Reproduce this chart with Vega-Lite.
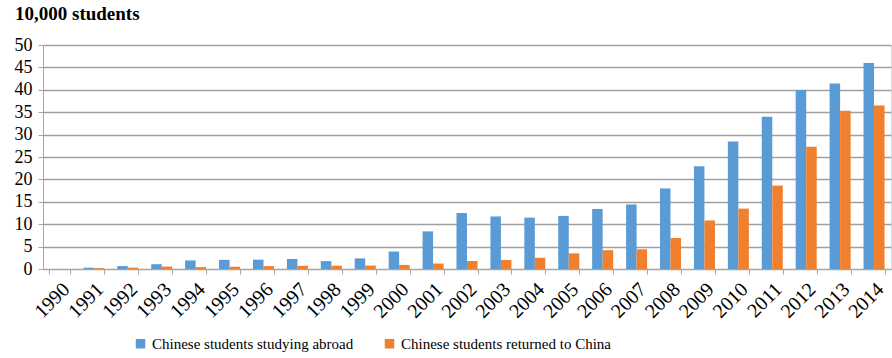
{
  "$schema": "https://vega.github.io/schema/vega-lite/v6.json",
  "width": 848,
  "height": 224,
  "autosize": {"type": "none"},
  "padding": {"left": 43, "right": 1, "top": 45, "bottom": 89},
  "background": "white",
  "title": {"text": "10,000 students", "anchor": "start", "frame": "bounds", "font": "Liberation Serif", "fontSize": 19, "fontWeight": "bold", "color": "#000000", "offset": 12, "dx": 1},
  "data": {"values": [
    {"year": "1990", "series": "Chinese students studying abroad", "v": 0},
    {"year": "1991", "series": "Chinese students studying abroad", "v": 0.29},
    {"year": "1992", "series": "Chinese students studying abroad", "v": 0.65},
    {"year": "1993", "series": "Chinese students studying abroad", "v": 1.07},
    {"year": "1994", "series": "Chinese students studying abroad", "v": 1.91},
    {"year": "1995", "series": "Chinese students studying abroad", "v": 2.04},
    {"year": "1996", "series": "Chinese students studying abroad", "v": 2.09},
    {"year": "1997", "series": "Chinese students studying abroad", "v": 2.24},
    {"year": "1998", "series": "Chinese students studying abroad", "v": 1.76},
    {"year": "1999", "series": "Chinese students studying abroad", "v": 2.37},
    {"year": "2000", "series": "Chinese students studying abroad", "v": 3.9},
    {"year": "2001", "series": "Chinese students studying abroad", "v": 8.4},
    {"year": "2002", "series": "Chinese students studying abroad", "v": 12.5},
    {"year": "2003", "series": "Chinese students studying abroad", "v": 11.73},
    {"year": "2004", "series": "Chinese students studying abroad", "v": 11.47},
    {"year": "2005", "series": "Chinese students studying abroad", "v": 11.85},
    {"year": "2006", "series": "Chinese students studying abroad", "v": 13.4},
    {"year": "2007", "series": "Chinese students studying abroad", "v": 14.4},
    {"year": "2008", "series": "Chinese students studying abroad", "v": 17.98},
    {"year": "2009", "series": "Chinese students studying abroad", "v": 22.93},
    {"year": "2010", "series": "Chinese students studying abroad", "v": 28.47},
    {"year": "2011", "series": "Chinese students studying abroad", "v": 33.97},
    {"year": "2012", "series": "Chinese students studying abroad", "v": 39.96},
    {"year": "2013", "series": "Chinese students studying abroad", "v": 41.39},
    {"year": "2014", "series": "Chinese students studying abroad", "v": 45.98},
    {"year": "1990", "series": "Chinese students returned to China", "v": 0},
    {"year": "1991", "series": "Chinese students returned to China", "v": 0.2},
    {"year": "1992", "series": "Chinese students returned to China", "v": 0.3},
    {"year": "1993", "series": "Chinese students returned to China", "v": 0.54},
    {"year": "1994", "series": "Chinese students returned to China", "v": 0.42},
    {"year": "1995", "series": "Chinese students returned to China", "v": 0.51},
    {"year": "1996", "series": "Chinese students returned to China", "v": 0.65},
    {"year": "1997", "series": "Chinese students returned to China", "v": 0.71},
    {"year": "1998", "series": "Chinese students returned to China", "v": 0.74},
    {"year": "1999", "series": "Chinese students returned to China", "v": 0.77},
    {"year": "2000", "series": "Chinese students returned to China", "v": 0.91},
    {"year": "2001", "series": "Chinese students returned to China", "v": 1.22},
    {"year": "2002", "series": "Chinese students returned to China", "v": 1.79},
    {"year": "2003", "series": "Chinese students returned to China", "v": 2.01},
    {"year": "2004", "series": "Chinese students returned to China", "v": 2.51},
    {"year": "2005", "series": "Chinese students returned to China", "v": 3.5},
    {"year": "2006", "series": "Chinese students returned to China", "v": 4.2},
    {"year": "2007", "series": "Chinese students returned to China", "v": 4.4},
    {"year": "2008", "series": "Chinese students returned to China", "v": 6.93},
    {"year": "2009", "series": "Chinese students returned to China", "v": 10.83},
    {"year": "2010", "series": "Chinese students returned to China", "v": 13.48},
    {"year": "2011", "series": "Chinese students returned to China", "v": 18.62},
    {"year": "2012", "series": "Chinese students returned to China", "v": 27.29},
    {"year": "2013", "series": "Chinese students returned to China", "v": 35.35},
    {"year": "2014", "series": "Chinese students returned to China", "v": 36.48}
  ]},
  "mark": {"type": "bar"},
  "encoding": {
    "x": {"field": "year", "type": "ordinal", "title": null,
      "scale": {"paddingInner": 0.38, "paddingOuter": 0.19},
      "axis": {"labelAngle": -45, "labelAlign": "right", "labelBaseline": "middle", "labelFontSize": 20, "labelColor": "#000000", "domainColor": "#A6A6A6", "tickColor": "#A6A6A6", "tickBand": "extent", "tickSize": 5, "labelPadding": 12, "labelOffset": 6}},
    "xOffset": {"field": "series", "type": "nominal", "sort": ["Chinese students studying abroad", "Chinese students returned to China"], "scale": {"paddingInner": 0}},
    "y": {"field": "v", "type": "quantitative", "title": null,
      "scale": {"domain": [0, 50]},
      "axis": {"values": [0, 5, 10, 15, 20, 25, 30, 35, 40, 45, 50], "labelFontSize": 18, "labelColor": "#000000", "domainColor": "#A6A6A6", "tickColor": "#A6A6A6", "gridColor": "#A0A0A0", "gridWidth": 1.5, "tickSize": 5, "labelPadding": 6}},
    "color": {"field": "series", "type": "nominal", "title": null,
      "sort": ["Chinese students studying abroad", "Chinese students returned to China"],
      "scale": {"domain": ["Chinese students studying abroad", "Chinese students returned to China"], "range": ["#5B9BD5", "#F07F2E"]},
      "legend": {"orient": "none", "legendX": 90, "legendY": 291, "direction": "horizontal", "symbolType": "square", "symbolSize": 90, "symbolStrokeWidth": 0, "labelFontSize": 15, "labelColor": "#000000", "columnPadding": 28, "labelLimit": 400}}
  },
  "config": {"font": "Liberation Serif", "view": {"stroke": "#D9D9D9"}, "axis": {"labelFont": "Liberation Serif"}, "legend": {"labelFont": "Liberation Serif"}}
}
